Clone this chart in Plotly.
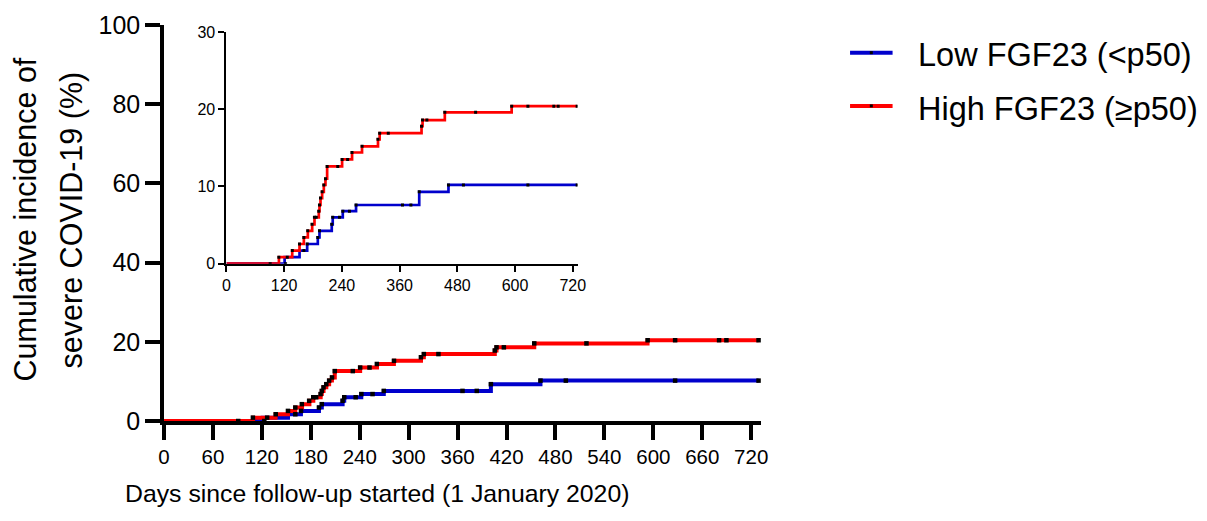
import plotly.graph_objects as go

# ---------------- data ----------------
low_step_days = [0, 121, 152, 167.9, 190, 193.5, 219, 221, 241.9, 269.5, 400.8, 461.6, 729]
low_step_pct = [0, 0.85, 1.7, 2.55, 3.4, 4.25, 5.1, 6.0, 6.8, 7.6, 9.3, 10.2, 10.2]

high_step_days = [0, 109.2, 136.8, 152, 161, 169.3, 178.3, 183.1, 192.1, 193.5, 195.6, 199,
                  202.5, 205.9, 209.4, 240.5, 261.2, 281.9, 315.1, 318.6, 405.6, 407.7,
                  454, 592.9, 729]
high_step_pct = [0, 0.85, 1.7, 2.55, 3.4, 4.25, 5.1, 6.0, 6.8, 7.6, 8.5, 9.3,
                 10.2, 11.0, 12.6, 13.5, 14.4, 15.2, 16.1, 16.9, 17.8, 18.6,
                 19.6, 20.4, 20.4]

low_mark_days = [123, 161, 168, 190, 193.5, 219, 221, 235, 242, 255.7, 269.5, 366, 383.5,
                 400.8, 461.6, 492.7, 626.7, 729]
low_mark_pct = [0, 1.7, 2.55, 3.4, 4.25, 5.1, 6.0, 6.0, 6.8, 6.8, 7.6, 7.6, 7.6,
                9.3, 10.2, 10.2, 10.2, 10.2]

high_mark_days = [91, 109, 126.5, 137, 152, 161, 169, 178, 183, 186.6, 192, 193.5, 195.6,
                  199, 202.5, 206, 209.4, 231.5, 240.5, 252, 261, 282, 315, 318.6, 336.5,
                  405.6, 407.7, 416.7, 454, 518, 593, 626.7, 680.6, 689.6, 729]
high_mark_pct = [0, 0.85, 0.85, 1.7, 2.55, 3.4, 4.25, 5.1, 6.0, 6.0, 6.8, 7.6, 8.5,
                 9.3, 10.2, 11.0, 12.6, 12.6, 13.5, 13.5, 14.4, 15.2, 16.1, 16.9, 16.9,
                 17.8, 18.6, 18.6, 19.6, 19.6, 20.4, 20.4, 20.4, 20.4, 20.4]

series_names = ["Low FGF23 (<p50)", "High FGF23 (\u2265p50)"]
series_colors = ["#0000CC", "#FF0000"]

main_xticks = list(range(0, 721, 60))
main_yticks = list(range(0, 101, 20))
inset_xticks = list(range(0, 721, 120))
inset_yticks = [0, 10, 20, 30]

x_title = "Days since follow-up started (1 January 2020)"
y_title_lines = ["Cumulative incidence of", "severe COVID-19 (%)"]

# ---------------- layout geometry (reference pixel coords) ----------------
OFF = 8  # page body margin
W_FIG, H_FIG = 1207 - OFF, 521 - OFF
L, R, T, B = 163.5, 761.5, 25.0, 421.5
PW, PH = R - L, B - T
FONT = "Arial, Liberation Sans, sans-serif"


def fx(px):
    return (px - L) / PW


def fy(py):
    return (B - py) / PH


fig = go.Figure()

steps = [(low_step_days, low_step_pct), (high_step_days, high_step_pct)]
marks = [(low_mark_days, low_mark_pct), (high_mark_days, high_mark_pct)]

# main plot
for (sx, sy), name, col in zip(steps, series_names, series_colors):
    fig.add_trace(go.Scatter(x=sx, y=sy, mode="lines", line=dict(color=col, width=4, shape="hv"),
                             name=name, showlegend=False, xaxis="x", yaxis="y"))
for (mx, my) in marks:
    fig.add_trace(go.Scatter(x=mx, y=my, mode="markers",
                             marker=dict(symbol="square", size=4.5, color="black"),
                             showlegend=False, xaxis="x", yaxis="y", hoverinfo="skip"))

# inset
for (sx, sy), name, col in zip(steps, series_names, series_colors):
    fig.add_trace(go.Scatter(x=sx, y=sy, mode="lines", line=dict(color=col, width=2.7, shape="hv"),
                             showlegend=False, xaxis="x2", yaxis="y2"))
for (mx, my) in marks:
    fig.add_trace(go.Scatter(x=mx, y=my, mode="markers",
                             marker=dict(symbol="square", size=3, color="black"),
                             showlegend=False, xaxis="x2", yaxis="y2", hoverinfo="skip"))

axis_common = dict(showline=True, linecolor="black", ticks="outside", tickcolor="black",
                   showgrid=False, zeroline=False, layer="below traces", fixedrange=True,
                   automargin=False)

ix0, ix1, iy0, iy1 = 226.0, 577.8, 264.0, 32.0

fig.update_layout(
    width=W_FIG, height=H_FIG, autosize=False,
    margin=dict(l=L - OFF, r=W_FIG - (R - OFF), t=T - OFF, b=H_FIG - (B - OFF), pad=0,
                autoexpand=False),
    paper_bgcolor="white", plot_bgcolor="white",
    font=dict(family=FONT, color="black"),
    showlegend=False,
    xaxis=dict(domain=[0, 1], range=[0, 732], tickvals=main_xticks,
               ticktext=[str(v) for v in main_xticks], linewidth=3.5, tickwidth=3.5, ticklen=15,
               tickfont=dict(size=20.5, family=FONT), **axis_common),
    yaxis=dict(domain=[0, 1], range=[0, 100], tickvals=main_yticks,
               ticktext=[str(v) for v in main_yticks], linewidth=3.5, tickwidth=3.5, ticklen=15,
               tickfont=dict(size=25, family=FONT), **axis_common),
    xaxis2=dict(domain=[fx(ix0), fx(ix1)], anchor="y2", range=[0, 730], tickvals=inset_xticks,
                ticktext=[str(v) for v in inset_xticks], linewidth=2, tickwidth=2, ticklen=6,
                tickfont=dict(size=16, family=FONT), **axis_common),
    yaxis2=dict(domain=[fy(iy0), fy(iy1)], anchor="x2", range=[0, 30], tickvals=inset_yticks,
                ticktext=[str(v) for v in inset_yticks], linewidth=2, tickwidth=2, ticklen=6,
                tickfont=dict(size=16, family=FONT), **axis_common),
)

annotations = []
annotations.append(dict(text=x_title, x=fx(377), y=fy(494), xref="paper", yref="paper",
                        xanchor="center", yanchor="middle", showarrow=False,
                        font=dict(size=24.8, family=FONT, color="black")))
for line, cx in zip(y_title_lines, [24, 71]):
    annotations.append(dict(text=line, x=fx(cx), y=fy(220), xref="paper", yref="paper",
                            xanchor="center", yanchor="middle", showarrow=False, textangle=-90,
                            font=dict(size=30.5, family=FONT, color="black")))

shapes = []
leg_y = [52.7, 106.0]
for name, col, ly, ty in zip(series_names, series_colors, leg_y, [54.7, 109.5]):
    shapes.append(dict(type="line", xref="paper", yref="paper", x0=fx(850.7), x1=fx(893.3),
                       y0=fy(ly), y1=fy(ly), line=dict(color=col, width=4)))
    shapes.append(dict(type="rect", xref="paper", yref="paper", x0=fx(870.5), x1=fx(873.5),
                       y0=fy(ly + 1.5), y1=fy(ly - 1.5), line=dict(width=0), fillcolor="black"))
    annotations.append(dict(text=name, x=fx(917), y=fy(ty), xref="paper", yref="paper",
                            xanchor="left", yanchor="middle", showarrow=False,
                            font=dict(size=32.5, family=FONT, color="black")))

fig.update_layout(annotations=annotations, shapes=shapes)

fig.write_html("out.html")
